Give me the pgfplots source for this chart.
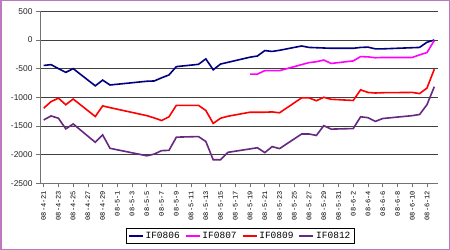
\documentclass[border=0pt]{standalone}
\usepackage{pgfplots}
\pgfplotsset{compat=1.18}
\usepackage{fontspec}
\setmainfont{Liberation Sans}
\newfontfamily\monofont{Liberation Mono}
\definecolor{c806}{RGB}{0,0,128}
\definecolor{c807}{RGB}{255,0,255}
\definecolor{c809}{RGB}{255,0,0}
\definecolor{c812}{RGB}{102,40,128}
\definecolor{framec}{RGB}{190,120,190}
\begin{document}
\begin{tikzpicture}
\useasboundingbox (0,0) rectangle (450bp,250bp);
\fill[white] (0,0) rectangle (450bp,250bp);
\draw[framec, line width=1.5bp] (0.75bp,0.75bp) rectangle (449.25bp,249.25bp);
\begin{axis}[
 at={(40bp,66.7bp)}, anchor=south west, scale only axis, width=398bp, height=172bp,
 xmin=-0.5, xmax=53.5, ymin=-2500, ymax=500,
 axis lines*=left, axis line style={black!55, line width=0.8bp, -},
 ytick={-2500,-2000,-1500,-1000,-500,0,500},
 yticklabels={-2500,-2000,-1500,-1000,-500,0,500},
 ymajorgrids, major grid style={black!75, line width=0.7bp},
 xtick={0,2,...,52},
 xticklabels={08-4-21,08-4-23,08-4-25,08-4-27,08-4-29,08-5-1,08-5-3,08-5-5,08-5-7,08-5-9,08-5-11,08-5-13,08-5-15,08-5-17,08-5-19,08-5-21,08-5-23,08-5-25,08-5-27,08-5-29,08-5-31,08-6-2,08-6-4,08-6-6,08-6-8,08-6-10,08-6-12},
 tick align=outside, major tick length=4bp, tick style={black!55, line width=0.8bp},
 yticklabel style={font=\fontsize{8.4bp}{10bp}\selectfont, text=black!85},
 xticklabel style={font=\monofont\fontsize{7bp}{8bp}\selectfont, rotate=90, anchor=east},
 legend columns=4,
 legend style={at={(axis description cs:0.216,-0.26)}, anchor=north west, draw=black, line width=0.8bp,
   font=\monofont\fontsize{9.5bp}{11bp}\selectfont, inner sep=1.5bp,
   /tikz/every even column/.append style={column sep=3bp}},
 legend image code/.code={\draw[#1, line width=1.7bp] (0bp,0bp) -- (14bp,0bp);},
]
\addplot[c806, line width=1.6bp] coordinates {
(0,-445)(1,-430)(2,-500)(3,-565)(4,-500)(7,-800)(8,-700)(9,-785)(14,-720)(15,-715)(16,-660)(17,-610)(18,-465)(21,-425)(22,-330)(23,-520)(24,-420)(25,-390)(28,-300)(29,-280)(30,-185)(31,-200)(32,-180)(35,-105)(36,-130)(37,-135)(38,-140)(39,-145)(42,-145)(43,-130)(44,-125)(45,-155)(46,-155)(50,-135)(51,-130)(52,-40)(53,0)};
\addplot[c807, line width=1.6bp] coordinates {
(28,-595)(29,-595)(30,-535)(31,-535)(32,-535)(35,-430)(36,-395)(37,-380)(38,-350)(39,-410)(42,-365)(43,-290)(44,-295)(45,-310)(46,-305)(50,-305)(51,-260)(52,-220)(53,-10)};
\addplot[c809, line width=1.6bp] coordinates {
(0,-1190)(1,-1075)(2,-1015)(3,-1130)(4,-1030)(7,-1335)(8,-1150)(9,-1180)(14,-1320)(15,-1360)(16,-1405)(17,-1340)(18,-1140)(21,-1140)(22,-1230)(23,-1455)(24,-1365)(25,-1330)(28,-1260)(29,-1260)(30,-1260)(31,-1255)(32,-1270)(35,-1010)(36,-1010)(37,-1060)(38,-1000)(39,-1035)(42,-1055)(43,-870)(44,-915)(45,-925)(46,-920)(50,-915)(51,-935)(52,-840)(53,-510)};
\addplot[c812, line width=1.6bp] coordinates {
(0,-1395)(1,-1325)(2,-1365)(3,-1550)(4,-1465)(7,-1785)(8,-1655)(9,-1890)(14,-2020)(15,-1990)(16,-1930)(17,-1925)(18,-1695)(21,-1685)(22,-1770)(23,-2090)(24,-2090)(25,-1960)(28,-1900)(29,-1880)(30,-1965)(31,-1860)(32,-1895)(35,-1640)(36,-1640)(37,-1665)(38,-1495)(39,-1555)(42,-1545)(43,-1340)(44,-1355)(45,-1420)(46,-1370)(50,-1320)(51,-1300)(52,-1130)(53,-815)};
\legend{IF0806,IF0807,IF0809,IF0812}
\end{axis}
\end{tikzpicture}
\end{document}
